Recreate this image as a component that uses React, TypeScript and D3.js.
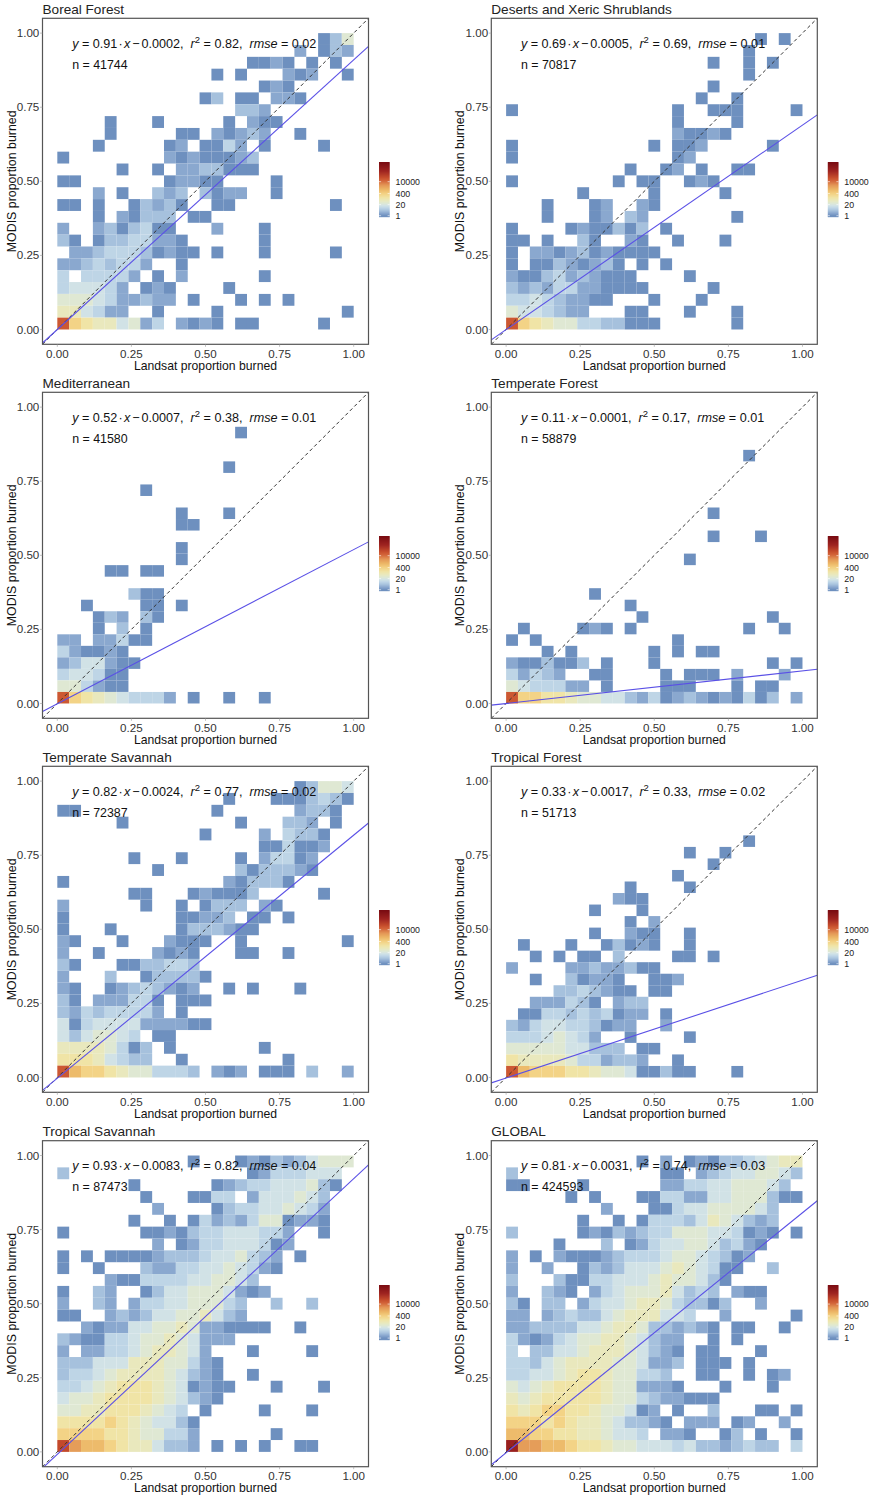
import React from "react";
import * as d3 from "d3";

const WIDTH = 875;
const HEIGHT = 1500;

// Level codes -> approximate bin counts
const levelCodes = "123456789abcde".split("");
const levelCounts = [1, 2, 4, 8, 15, 30, 60, 130, 350, 1000, 3000, 20000, 35000, 250000];
const rampCounts = [1, 2, 4.2, 8.5, 15, 27, 54, 128, 400, 1260, 3950, 12400, 30000, 180000, 1700000];
const rampColors = ["#6e90bf", "#8aa8cf", "#a8c3de", "#c0d7e7", "#d1e2e6", "#dde8d6", "#e8e9c0", "#f0e4a6", "#f3d182", "#ecb565", "#e39555", "#d3653a", "#c64d2c", "#9e2320", "#7a0c12"];
const legendTicks = [1, 20, 400, 10000];
const axisTicks = [0, 0.25, 0.5, 0.75, 1];

// Rows run from the top bin (r24) to the bottom bin (r0), columns from x = 0 to x = 1
const borealGrid = [
  "..... ..... ..... ..... ..136",
  "..... ..... ..... ..... 2.132",
  "..... ..... ..... .1121 .1.1.",
  "..... ..... ...1. 1...2 12..1",
  "..... ..... ..... ..121 .....",
  "..... ..... ..13. 11.22 1....",
  "..... ..... ..... 332.. .....",
  "....1 ...1. ....1 .211. .....",
  "....1 ..... 11.21 232.. 1....",
  "...1. ....1 2.114 2.1.. ..1..",
  "1.... ....2 12111 23... .....",
  "..... 1..1. 22331 11... .....",
  "11... ....1 2211. ...1. .....",
  "...2. 1..32 3.312 2..1. .....",
  "11.1. .1323 1..11 ..... ...1.",
  "...1. 21333 .11.. ..... .....",
  "2..23 13411 ...2. ..1.. .....",
  "31.13 34422 1.... ..1.. .....",
  ".2234 44312 11.1. ..1.. ...1.",
  "22343 442.. 1.... ..... .....",
  "4.444 42.1. 2.... ..1.. .....",
  "45554 2.121 ....1 ..... .....",
  "66654 22322 .1... 1.1.1 .....",
  "77542 2..1. ...1. ..... ....1",
  "c9877 5624. 2121. 11... ..1..",
];
const desertGrid = [
  "..... ..... ..... ..... .1.1.",
  "..... ..... ..... ..... 1....",
  "..... ..... ..... ..1.. 1.1..",
  "..... ..... ..... ..... 1....",
  "..... ..... ..... ..1.. .....",
  "..... ..... ..... .1..1 .....",
  "1.... ..... ....1 ..111 ....1",
  "..... ..... ....1 ....1 .....",
  "..... ..... ....2 1121. .....",
  "1.... ..... ..1.1 12... ..1..",
  "1.... ..... ....1 2.... .....",
  "..... ..... 1..12 .1..1 1....",
  "1.... ....1 .11.. 121.. .....",
  "..... .1... ..1.. ...1. .....",
  "...1. ..12. .21.. ..... .....",
  "...1. ..12. 32... ....1 .....",
  "1.... 12113 13.1. ..... .....",
  "11.1. .31.. 21..1 ...1. .....",
  "1.221 23121 111.. ..... .....",
  "1.113 21231 .1.1. ..... .....",
  "21134 23211 1.... 1.... .....",
  "32324 42211 11... ..1.. .....",
  "44543 2211. ..1.. .1... .....",
  "65543 22... 11... 1...1 .....",
  "c9876 64433 111.. ....1 .....",
];
const mediterraneanGrid = [
  "",
  "..... ..... ..... 1.... .....",
  "",
  "",
  "..... ..... ....1 ..... .....",
  "",
  "..... ..1.. ..... ..... .....",
  "",
  "..... ..... 1...1 ..... .....",
  "..... ..... 11... ..... .....",
  "",
  "..... ..... 1.... ..... .....",
  "..... ..... 1.... ..... .....",
  "....1 1.11. ..... ..... .....",
  "",
  "..... .311. ..... ..... .....",
  "..1.. ..11. 1.... ..... .....",
  "...13 2.31. ..... ..... .....",
  "...1. 3.1.. ..... ..... .....",
  "22.22 411.. ..... ..... .....",
  "42112 1.... ..... ..... .....",
  "23552 11... ..... ..... .....",
  "45541 1.... ..... ..... .....",
  "66421 1.... ..... ..... .....",
  "c9876 54442 .1..1 ..1.. .....",
];
const temperateForestGrid = [
  "",
  "",
  "",
  "..... ..... ..... ..... 1....",
  "",
  "",
  "",
  "",
  "..... ..... ..... ..1.. .....",
  "",
  "..... ..... ..... ..1.. .1...",
  "",
  "..... ..... ..... 1.... .....",
  "",
  "",
  "..... ..1.. ..... ..... .....",
  "..... ..... 1.... ..... .....",
  "..... ..... .1... ..... ..1..",
  ".1... .121. 1.... ..... 1..1.",
  "1.1.. ..... ....1 ..... .....",
  "...1. 1.... ..1.1 .11.. .....",
  "21131 13.1. ..1.. ..... ..1.1",
  "42432 ..11. ...1. 111.2 ...2.",
  "65444 22.1. ...11 1...1 .11..",
  "c9988 76655 32412 32121 413.2",
];
const temperateSavannahGrid = [
  "..... ..... ..... ..... 13665",
  "..... ..... ....1 ...11 13431",
  "11... ..... ...1. ..... 2331.",
  "..... 1.... ..... 1...3 32.1.",
  "..... ..... ..1.. ..2.4 331..",
  "..... ..... ..... ..114 112..",
  "..... .1... 1.... 1.244 12...",
  "..... ...1. ..... 31333 21...",
  "1.... ..... ....2 13331 .....",
  "..... .11.. .1211 13... ..1..",
  "2.... ..1.. 1.133 3.21. .....",
  "1.... ..... 11223 .11.1 .....",
  "1...1 ..... 13332 11... .....",
  "21... 1...2 111.. 1.... ....1",
  "2..1. ...21 21... 11..1 .....",
  "31... 11334 43... ..... .....",
  "2...3 ..133 331.. ..... .....",
  "21..1 23432 12..1 .1... 1....",
  "31.22 2441. 111.. ..... .....",
  "32434 4442. 1.... ..... .....",
  "51455 55222 211.. ..... .....",
  "53566 54.11 ..... ..... .....",
  "77776 413.1 ..... ..1.. .....",
  "88875 433.. 1.... ....1 .....",
  "ca998 76644 43.21 2.111 .3..2",
];
const tropicalForestGrid = [
  "",
  "",
  "",
  "",
  "..... ..... ..... ..... 1....",
  "..... ..... ..... 1..1. .....",
  "..... ..... ..... ..1.. .....",
  "..... ..... ....1 ..... .....",
  "..... ..... 1.... 1.... .....",
  "..... ....2 11... ..... .....",
  "..... ..1.. .1... ..... .....",
  "..... ..... 1.2.. ..... .....",
  "..... ..1.. 211.. 1.... .....",
  ".1... 1..13 121.. 1.... .....",
  "..1.1 .11.3 ....1 1.1.. .....",
  "2.... 22322 311.. ..... .....",
  "..1.. 31221 ..112 ..... .....",
  "....3 34321 1.11. ..... .....",
  "..222 431.2 33... ..... .....",
  ".1144 34341 22.1. ..... .....",
  "32455 44312 2..2. ..... .....",
  "44456 542.. 1.... 1.... .....",
  "66666 55333 .11.. ..... .....",
  "87777 64423 32..1 ..... .....",
  "ca999 88766 51131 1...1 .....",
];
const tropicalSavannahGrid = [
  "..... ..... .1... 12132 35666",
  "3.... ..... ..... .1244 4555.",
  "..... .1... ...12 34455 5631.",
  "..... ..1.. .1144 .2555 653..",
  "..... ...2. ...13 44556 542..",
  "..... .1..1 .1423 24661 221..",
  "1.... ..112 13445 55442 ..1..",
  "..... ...2. 12445 55412 .....",
  "1.1.1 11123 33455 6432. 1....",
  "1..1. ..322 44556 5421. .....",
  "....2 11444 45566 53... .....",
  "1..32 ..135 56665 212.. .....",
  "2..32 .2445 56664 3..3. .3...",
  "11..2 32355 66753 2.... .....",
  "..212 25566 76221 111.. 1....",
  "32114 45667 65222 ..... .....",
  "2.224 45677 652.. .1... .1...",
  "33355 57776 6421. ..... .....",
  "34456 77776 5321. .1... .....",
  "44567 88876 51211 ...1. ..1..",
  "56678 88876 5321. ..... .....",
  "66778 88765 4.1.. ..1.. .1...",
  "88889 87655 31... ..... .....",
  "99998 87664 42... ...1. .....",
  "dbaa9 87753 32.1. 1.1.. 11...",
];
const globalGrid = [
  "..... ..... .1.2. 12133 45677",
  "3.... ..... ...11 .2345 56653",
  "11... .1... ...22 44556 6653.",
  "..... 1.1.. .1144 22556 66311",
  "..... ...2. ..114 55666 653..",
  "..... .1..1 .1444 35765 323..",
  "3.... .1213 23446 66554 121.1",
  "....1 ...3. 12455 66534 21...",
  "2.1.2 11123 44456 65431 2....",
  "2..2. .1323 55567 65411 ..3..",
  "3...3 11445 55676 6531. .....",
  "2..32 1.245 66675 343.2 11...",
  "31.33 .2455 67764 3313. .2...",
  "22.23 43356 77755 4..2. ....1",
  "22333 35567 76332 321.1 1..1.",
  "42124 56677 65322 ..1.1 .....",
  "4.335 56777 65321 .11.. .1...",
  "44356 77776 65223 .111. 1....",
  "44556 78876 6443. .11.. 1.12.",
  "65678 88876 62221 ...1. ..1..",
  "76788 88876 64322 111.. .....",
  "87899 88766 512.1 ..3.. .11.1",
  "99989 87765 3321. 222.1 2..2.",
  "aa998 87765 54.22 1..13 .1..1",
  "ebbaa 98876 65554 53323 433.4",
];

const panelTitles = ["Boreal Forest", "Deserts and Xeric Shrublands", "Mediterranean", "Temperate Forest", "Temperate Savannah", "Tropical Forest", "Tropical Savannah", "GLOBAL"];
const panelGrids = [borealGrid, desertGrid, mediterraneanGrid, temperateForestGrid, temperateSavannahGrid, tropicalForestGrid, tropicalSavannahGrid, globalGrid];
const slopes = [0.91, 0.69, 0.52, 0.11, 0.82, 0.33, 0.93, 0.81];
const interceptLabels = ["0.0002", "0.0005", "0.0007", "0.0001", "0.0024", "0.0017", "0.0083", "0.0031"];
const r2Labels = ["0.82", "0.69", "0.38", "0.17", "0.77", "0.33", "0.82", "0.74"];
const rmseLabels = ["0.02", "0.01", "0.01", "0.01", "0.02", "0.02", "0.04", "0.03"];
const nLabels = ["41744", "70817", "41580", "58879", "72387", "51713", "87473", "424593"];
const yBinWidths = [0.04, 0.04, 0.0389, 0.0389, 0.04, 0.0389, 0.04, 0.04];
const xBinWidth = 0.04;

const panelLefts = [42.5, 491.3];
const panelTops = [18.3, 392.3, 766.3, 1140.7];
const panelSize = 326;
const domain: [number, number] = [-0.05, 1.05];
const FONT = "'Liberation Sans', Arial, sans-serif";

const colorScale = d3.scaleLog<string>().domain(rampCounts).range(rampColors).interpolate(d3.interpolateRgb).clamp(true);
const levelValue = (ch: string) => levelCounts[levelCodes.indexOf(ch)];

function Panel({ index }: { index: number }) {
  const left = panelLefts[index % 2];
  const top = panelTops[Math.floor(index / 2)];
  const right = left + panelSize;
  const bottom = top + panelSize;
  const x = d3.scaleLinear().domain(domain).range([left, right]);
  const y = d3.scaleLinear().domain(domain).range([bottom, top]);
  const yBin = yBinWidths[index];
  const rows = panelGrids[index].map((r) => r.replace(/ /g, "").padEnd(25, "."));
  const cells = rows.flatMap((row, ri) =>
    row.split("").flatMap((ch, c) => {
      if (ch === ".") return [];
      return [{ c, r: rows.length - 1 - ri, count: levelValue(ch) }];
    })
  );
  const slope = slopes[index];
  const intercept = -parseFloat(interceptLabels[index]);
  const fitLine = d3.line<number>().x((d) => x(d)).y((d) => y(slope * d + intercept));
  const diagLine = d3.line<number>().x((d) => x(d)).y((d) => y(d));

  const clipId = `clip${index}`;
  const legendTop = top + 144.4;
  const legendBottom = top + 198.4;
  const legendScale = d3.scaleLog().domain([0.76, 1700000]).range([legendBottom, legendTop]);
  const legendX = right + 10.5;
  const legendW = 10.7;

  return (
    <g fontFamily={FONT}>
      <clipPath id={clipId}>
        <rect x={left} y={top} width={panelSize} height={panelSize} />
      </clipPath>
      <text x={left} y={top - 4.3} fontSize={13.6} fill="#222">{panelTitles[index]}</text>
      <g style={{ filter: "blur(0.45px)" }}>
        {cells.map((d) => (
          <rect
            key={`${d.c}-${d.r}`}
            x={x(d.c * xBinWidth)}
            y={y((d.r + 1) * yBin)}
            width={x(xBinWidth) - x(0)}
            height={y(0) - y(yBin)}
            fill={colorScale(d.count)}
          />
        ))}
      </g>
      <g clipPath={`url(#${clipId})`}>
        <path d={diagLine(domain) ?? ""} fill="none" stroke="#333" strokeWidth={1} strokeDasharray="3.5 2.8" />
        <path d={fitLine(domain) ?? ""} fill="none" stroke="#5a50e6" strokeWidth={1.1} />
      </g>
      <rect x={left} y={top} width={panelSize} height={panelSize} fill="none" stroke="#555" strokeWidth={1.2} />
      {axisTicks.map((t) => (
        <g key={t}>
          <line x1={x(t)} x2={x(t)} y1={bottom} y2={bottom + 2.5} stroke="#999" strokeWidth={0.6} />
          <line x1={left - 2.5} x2={left} y1={y(t)} y2={y(t)} stroke="#999" strokeWidth={0.6} />
          <text x={x(t)} y={bottom + 13.5} textAnchor="middle" fontSize={11.6} fill="#333">{d3.format(".2f")(t)}</text>
          <text x={left - 3.2} y={y(t) + 4.1} textAnchor="end" fontSize={11.6} fill="#333">{d3.format(".2f")(t)}</text>
        </g>
      ))}
      <text x={(left + right) / 2} y={bottom + 25.6} textAnchor="middle" fontSize={12.2} fill="#111">Landsat proportion burned</text>
      <text
        transform={`translate(${left - 27},${top + 163}) rotate(-90)`}
        textAnchor="middle"
        fontSize={12.4}
        fill="#111"
      >
        MODIS proportion burned
      </text>
      <text x={x(0.05)} y={y(0.95)} fontSize={12.6} fill="#111" style={{ whiteSpace: "pre" }}>
        <tspan fontStyle="italic">y</tspan>
        {` = ${slope.toFixed(2)}`}
        <tspan dx={1.2}>·</tspan>
        <tspan dx={1.2} fontStyle="italic">x</tspan>
        <tspan dx={2}>−</tspan>
        <tspan dx={2}>{`${interceptLabels[index]},  `}</tspan>
        <tspan fontStyle="italic">r</tspan>
        <tspan dy={-5} fontSize={9.5}>2</tspan>
        <tspan dy={5}>{` = ${r2Labels[index]},  `}</tspan>
        <tspan fontStyle="italic">rmse</tspan>
        {` = ${rmseLabels[index]}`}
      </text>
      <text x={x(0.05)} y={y(0.88)} fontSize={12.4} fill="#111">{`n = ${nLabels[index]}`}</text>

      {d3.range(Math.floor(legendTop), Math.ceil(legendBottom), 1).map((py) => (
        <rect key={py} x={legendX} y={py} width={legendW} height={1.2} fill={colorScale(legendScale.invert(py + 0.5))} />
      ))}
      {legendTicks.map((t) => (
        <g key={t}>
          <line x1={legendX} x2={legendX + 2.1} y1={legendScale(t)} y2={legendScale(t)} stroke="#fff" strokeWidth={0.6} />
          <line x1={legendX + legendW - 2.1} x2={legendX + legendW} y1={legendScale(t)} y2={legendScale(t)} stroke="#fff" strokeWidth={0.6} />
          <text x={legendX + legendW + 5.8} y={legendScale(t) + 3.1} fontSize={8.8} fill="#222">{t}</text>
        </g>
      ))}
    </g>
  );
}

export default function App() {
  return (
    <svg
      width={WIDTH}
      height={HEIGHT}
      viewBox={`0 0 ${WIDTH} ${HEIGHT}`}
      style={{ position: "absolute", left: 0, top: 0, background: "#fff" }}
    >
      {panelTitles.map((_, i) => (
        <Panel key={i} index={i} />
      ))}
    </svg>
  );
}
